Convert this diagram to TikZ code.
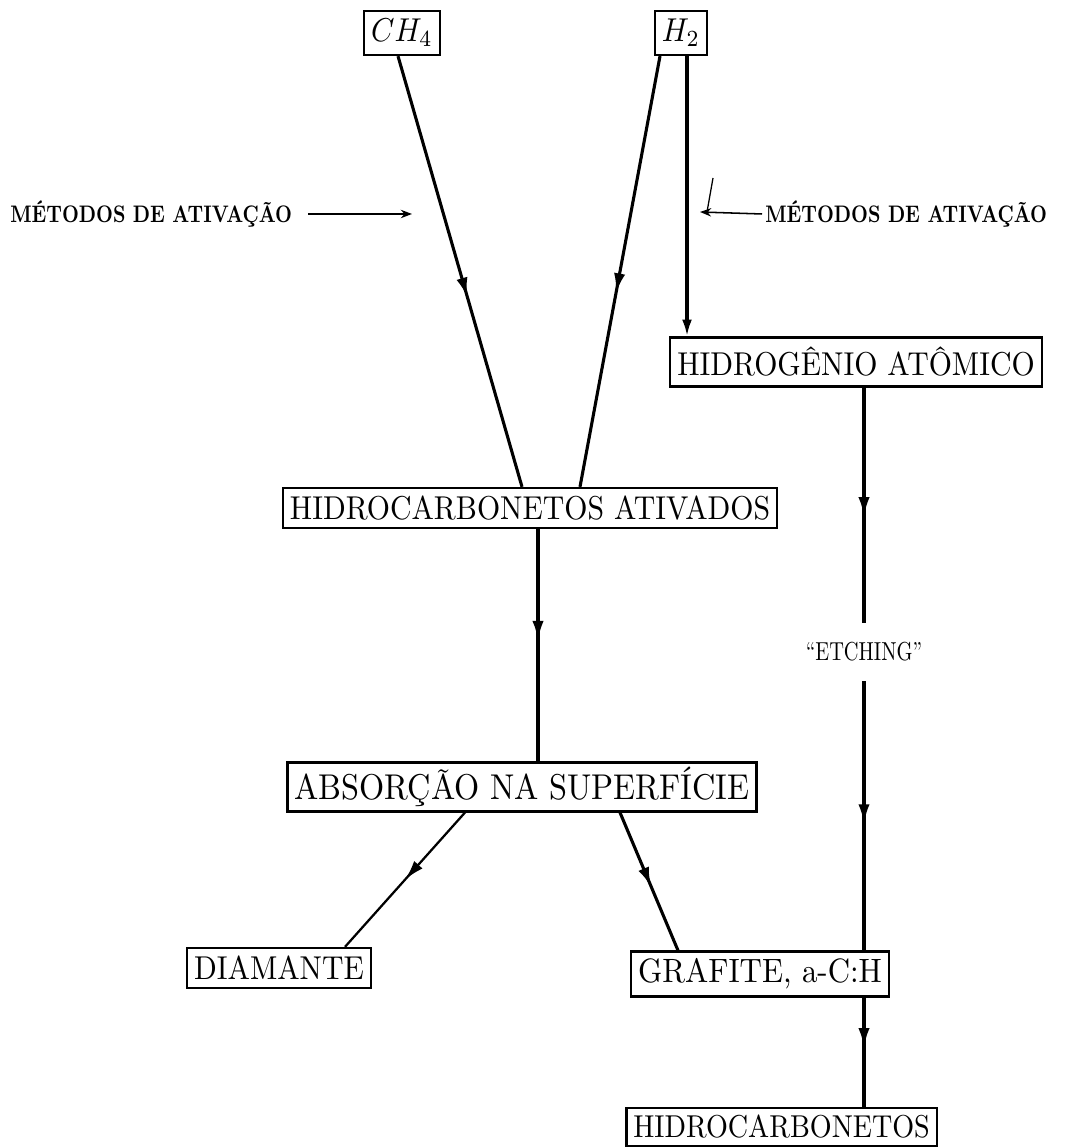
\documentclass[tikz,border=0pt]{standalone}
\usepackage{graphicx}
\usepackage{tikz}
\usetikzlibrary{arrows.meta, positioning, decorations.markings}

\begin{document}
\begin{tikzpicture}[>=Stealth,
  box/.style={draw, line width=1.6pt, inner xsep=5pt, inner ysep=0pt,
    font=\fontsize{10}{12}\selectfont, minimum height=1cm},
  metodo/.style={font=\fontsize{10}{12}\selectfont\bfseries, inner sep=0pt},
  link/.style={line width=2.2pt},
  midarrow/.style={decoration={markings,
      mark=at position #1 with {\arrow{Latex[length=14pt,width=8pt]}}},
    postaction={decorate}}]
  \useasboundingbox (0, 0) rectangle (26.8, 28.7);

  % Gases
  \node[box, minimum height=1.1cm] (ch4) at (10.05, 27.875)
    {\scalebox{2.12}[2.35]{$CH_4$}};
  \node[box, minimum height=1.1cm] (h2) at (17.025, 27.875)
    {\scalebox{2.12}[2.35]{$H_2$}};

  % Activation
  \node[metodo, anchor=west] (metl) at (0.25, 23.35)
    {\scalebox{1.39}[1.7]{MÉTODOS DE ATIVAÇÃO}};
  \node[metodo, anchor=west] (metr) at (19.125, 23.35)
    {\scalebox{1.39}[1.7]{MÉTODOS DE ATIVAÇÃO}};
  \coordinate (tipl) at (10.3, 23.35);
  \coordinate (tipr) at (17.5, 23.4);
  \coordinate (tick) at (17.825, 24.25);
  \draw[->, line width=1.1pt] ([xshift=0.4cm]metl.east) -- (tipl);
  \draw[->, line width=1.1pt] ([xshift=-0.075cm]metr.west) -- (tipr);
  \draw[line width=0.9pt] (tick) -- ([xshift=0.175cm]tipr);

  % Species
  \node[box] (hca) at (13.25, 16.0)
    {\scalebox{2.12}[2.35]{HIDROCARBONETOS ATIVADOS}};
  \node[box, minimum height=1.22cm] (hat) at (21.4, 19.65)
    {\scalebox{2.12}[2.35]{HIDROGÊNIO ATÔMICO}};
  \node[box, minimum height=1.22cm] (abs) at (13.05, 9.025)
    {\scalebox{2.3}[2.55]{ABSORÇÃO NA SUPERFÍCIE}};
  \node[font=\fontsize{10}{12}\selectfont, minimum height=1.45cm]
    (etch) at (21.6, 12.4) {\scalebox{1.45}[1.85]{“ETCHING”}};
  \node[box] (dia) at (6.975, 4.5)
    {\scalebox{2.12}[2.35]{DIAMANTE}};
  \node[box, minimum height=1.12cm] (graf) at (19.0, 4.35)
    {\scalebox{2.2}[2.4]{GRAFITE, a-C:H}};
  \node[box, minimum height=0.95cm] (hcb) at (19.54, 0.525)
    {\scalebox{2.0}[2.25]{HIDROCARBONETOS}};

  % Connectors
  \draw[link, midarrow=0.56] ([xshift=-0.1cm]ch4.south)
    -- ([xshift=-0.2cm]hca.north);
  \draw[link, midarrow=0.55] ([xshift=-0.525cm]h2.south)
    -- ([xshift=1.25cm]hca.north);
  \draw[link, -{Latex[length=12pt,width=7pt]}] ([xshift=0.15cm]h2.south)
    -- ([xshift=0.15cm]h2.south |- hat.north);
  \draw[link, midarrow=0.48] ([xshift=0.2cm]hca.south)
    -- ([xshift=0.2cm]hca.south |- abs.north);
  \draw[link, midarrow=0.55] (etch |- hat.south) -- (etch.north);
  \draw[link, midarrow=0.53] (etch.south) -- (etch |- graf.north);
  \draw[link, line width=1.6pt, midarrow=0.5] ([xshift=-1.425cm]abs.south)
    -- ([xshift=1.65cm]dia.north);
  \draw[link, midarrow=0.54] ([xshift=2.45cm]abs.south)
    -- ([xshift=-2.05cm]graf.north);
  \draw[link, midarrow=0.46] (etch |- graf.south) -- (etch |- hcb.north);
\end{tikzpicture}
\end{document}
